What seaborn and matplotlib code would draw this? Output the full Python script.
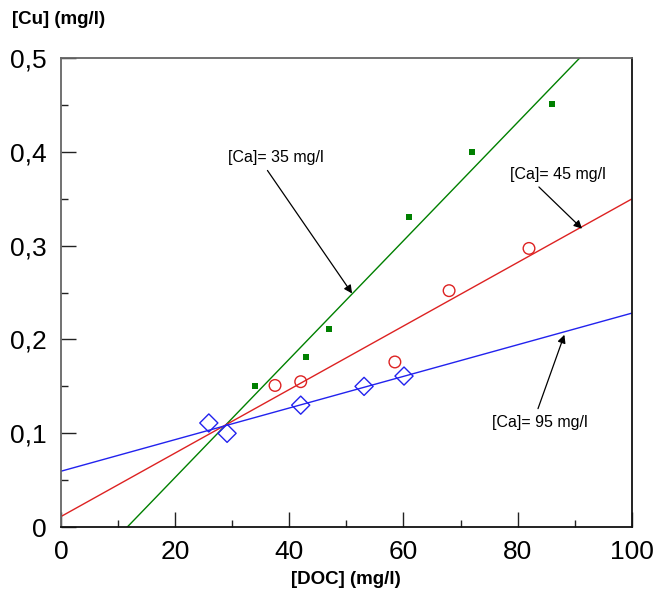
import numpy as np
import pandas as pd
import matplotlib
matplotlib.use("Agg")
import matplotlib.pyplot as plt
from matplotlib.ticker import MultipleLocator, FuncFormatter
import seaborn as sns

# Data
doc_ca35 = [34, 43, 47, 61, 72, 86]
cu_ca35 = [0.150, 0.181, 0.211, 0.331, 0.400, 0.451]

doc_ca45 = [37.5, 42, 58.5, 68, 82]
cu_ca45 = [0.151, 0.155, 0.176, 0.252, 0.297]

doc_ca95 = [25.9, 29.1, 42, 53.1, 60.1]
cu_ca95 = [0.111, 0.100, 0.130, 0.150, 0.161]

labels = ["[Ca]= 35 mg/l", "[Ca]= 45 mg/l", "[Ca]= 95 mg/l"]

sns.set_theme(style="white")
plt.rcParams["font.family"] = ["Liberation Sans", "DejaVu Sans"]
plt.rcParams["text.color"] = "black"
plt.rcParams["axes.labelcolor"] = "black"
plt.rcParams["xtick.color"] = "black"
plt.rcParams["ytick.color"] = "black"

fig = plt.figure(figsize=(6.56, 5.97), dpi=100)
ax = fig.add_axes([0.093, 0.117, 0.870, 0.786])
ax.set_xlim(0, 100)
ax.set_ylim(0, 0.5)

series = [
    (doc_ca35, cu_ca35, "#008000", dict(marker="s", s=22, color="#008000", linewidths=0)),
    (doc_ca45, cu_ca45, "#dd2222", dict(marker="o", s=70, facecolors="none", edgecolors="#dd2222", linewidths=1.0)),
    (doc_ca95, cu_ca95, "#2222ee", dict(marker="D", s=85, facecolors="none", edgecolors="#2222ee", linewidths=1.0)),
]
for xs, ys, col, kw in series:
    df = pd.DataFrame({"x": xs, "y": ys})
    sns.regplot(data=df, x="x", y="y", ax=ax, ci=None, truncate=False,
                scatter=False, line_kws=dict(color=col, lw=1.0))
    ax.scatter(df["x"], df["y"], zorder=3, clip_on=False, **kw)

ax.set_xlim(0, 100)
ax.set_ylim(0, 0.5)

ax.xaxis.set_major_locator(MultipleLocator(20))
ax.xaxis.set_minor_locator(MultipleLocator(10))
ax.yaxis.set_major_locator(MultipleLocator(0.1))
ax.yaxis.set_minor_locator(MultipleLocator(0.05))
ax.yaxis.set_major_formatter(FuncFormatter(lambda v, p: "0" if abs(v) < 1e-9 else f"{v:.1f}".replace(".", ",")))
ax.xaxis.set_major_formatter(FuncFormatter(lambda v, p: f"{v:.0f}"))
ax.tick_params(axis="both", which="major", direction="in", length=11, width=1.0,
               labelsize=19, color="#222222", labelcolor="black",
               bottom=True, left=True, top=False, right=False)
ax.tick_params(axis="x", which="major", pad=9)
ax.tick_params(axis="y", which="major", pad=10)
ax.tick_params(axis="both", which="minor", direction="in", length=5, width=1.0,
               color="#222222", bottom=True, left=True, top=False, right=False)
for side in ["top", "left"]:
    ax.spines[side].set_color("#666666")
for side in ["bottom", "right"]:
    ax.spines[side].set_color("#111111")
for sp in ax.spines.values():
    sp.set_linewidth(1.3)

ax.set_xlabel("[DOC] (mg/l)", fontsize=13.5, fontweight="bold", labelpad=5, color="black")
ax.set_ylabel("")
fig.text(12 / 656, 1 - 19 / 597, "[Cu] (mg/l)", fontsize=13.5, fontweight="bold",
         va="center", ha="left", color="black")

def arrow(rx, ry):
    return dict(arrowstyle="-|>", color="black", lw=0.9, mutation_scale=12,
                shrinkA=2, shrinkB=0, relpos=(rx, ry))

ax.annotate(labels[0], xy=(51, 0.249), xytext=(29.3, 0.394), fontsize=11.5,
            ha="left", va="center", color="black", arrowprops=arrow(0.37, 0.0))
ax.annotate(labels[1], xy=(91.3, 0.318), xytext=(78.6, 0.376), fontsize=11.5,
            ha="left", va="center", color="black", arrowprops=arrow(0.25, 0.0))
ax.annotate(labels[2], xy=(88.2, 0.205), xytext=(75.5, 0.112), fontsize=11.5,
            ha="left", va="center", color="black", arrowprops=arrow(0.46, 1.0))

fig.savefig("out.png", dpi=100)
